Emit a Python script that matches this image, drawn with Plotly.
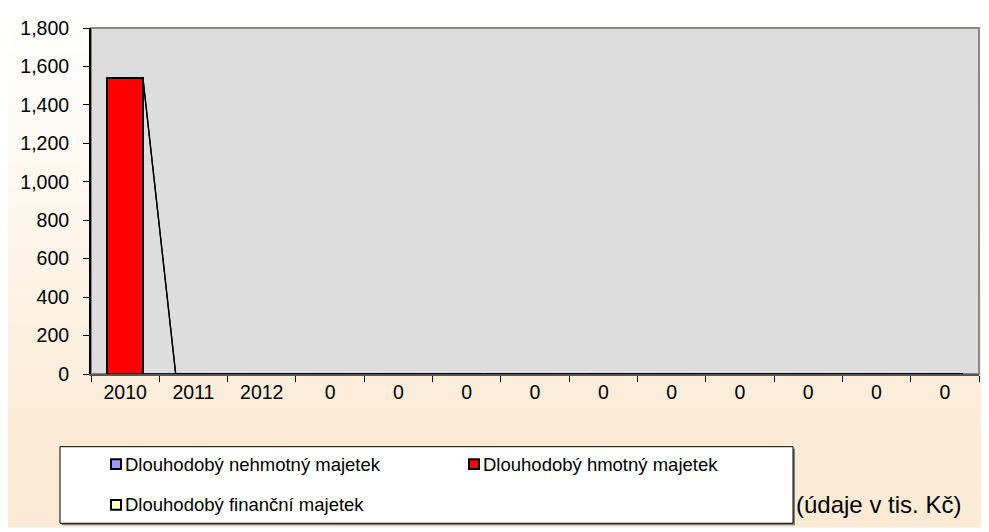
import plotly.graph_objects as go

# categories (the repeated "0" labels are kept as in the source chart)
categories = ["2010", "2011", "2012", "0", "0", "0", "0", "0", "0", "0", "0", "0", "0"]
nehmotny = [0, 0, 0, 0, 0, 0, 0, 0, 0, 0, 0, 0, 0]
hmotny = [1540, 0, 0, 0, 0, 0, 0, 0, 0, 0, 0, 0, 0]
financni = [0, 0, 0, 0, 0, 0, 0, 0, 0, 0, 0, 0, 0]

series = [
    ("Dlouhodobý nehmotný majetek", nehmotny, "#9999FF"),
    ("Dlouhodobý hmotný majetek", hmotny, "#FF0000"),
    ("Dlouhodobý finanční majetek", financni, "#FFFFCC"),
]
note = "(údaje v tis. Kč)"

xpos = list(range(len(categories)))
bar_w = 0.52

fig = go.Figure()
for name, vals, col in series:
    fig.add_trace(go.Bar(
        x=xpos, y=vals, name=name, width=bar_w, showlegend=False,
        marker=dict(color=col, line=dict(color="black", width=2)),
    ))

# Excel-style series lines joining the stacked tops of neighbouring bars
cum = [0] * len(categories)
lx, ly = [], []
for name, vals, col in series:
    cum = [c + v for c, v in zip(cum, vals)]
    for i in range(len(categories) - 1):
        lx += [xpos[i] + bar_w / 2, xpos[i + 1] - bar_w / 2, None]
        ly += [cum[i], cum[i + 1], None]
fig.add_trace(go.Scatter(x=lx, y=ly, mode="lines", showlegend=False,
                         line=dict(color="black", width=1.3), hoverinfo="skip"))

# page puts the figure 8px in from the top-left corner
OFF = 8
W, H = 989 - OFF, 532 - OFF
L, R, T, B = 83, 10, 9, 158
pw, ph = W - L - R, H - T - B


def sx(X):  # screen pixel -> paper x
    return (X - OFF - L) / pw


def sy(Y):  # screen pixel -> paper y
    return (H - B - (Y - OFF)) / ph


# background gradient (white at top -> peach at bottom)
shapes = []
n = 60
top_c = (255, 255, 255)
bot_c = (251, 235, 213)
for k in range(n):
    y0 = OFF + k * H / n
    y1 = OFF + (k + 1) * H / n
    f = min(1.0, ((y0 + y1) / 2) / 440) ** 1.1
    c = tuple(round(a + (b - a) * f) for a, b in zip(top_c, bot_c))
    shapes.append(dict(
        type="rect", xref="paper", yref="paper", layer="below",
        x0=sx(0), x1=sx(989), y0=sy(y1 + 0.5), y1=sy(y0),
        fillcolor="rgb(%d,%d,%d)" % c, line=dict(width=0),
    ))
shapes.append(dict(type="rect", xref="paper", yref="paper", layer="below",
                   x0=0, x1=1, y0=0, y1=1, fillcolor="#DDDDDD",
                   line=dict(color="#888888", width=2)))

# legend box drawn by hand so the rows keep the original spacing
shapes.append(dict(type="rect", xref="paper", yref="paper",
                   x0=sx(62), x1=sx(795), y0=sy(530), y1=sy(451),
                   fillcolor="#808080", line=dict(width=0)))
shapes.append(dict(type="rect", xref="paper", yref="paper",
                   x0=sx(60), x1=sx(793), y0=sy(528), y1=sy(449),
                   fillcolor="white", line=dict(color="black", width=1)))
legend_pos = [(111, 467), (469, 467), (111, 509)]
annotations = []
for (name, vals, col), (lxp, lyp) in zip(series, legend_pos):
    shapes.append(dict(type="rect", xref="paper", yref="paper",
                       x0=sx(lxp), x1=sx(lxp + 10), y0=sy(lyp + 5), y1=sy(lyp - 5),
                       fillcolor=col, line=dict(color="black", width=2)))
    annotations.append(dict(text=name, xref="paper", yref="paper",
                            x=sx(lxp + 12), y=sy(lyp), xanchor="left", yanchor="middle",
                            showarrow=False, font=dict(size=18.5)))
annotations.append(dict(text=note, xref="paper", yref="paper",
                        x=sx(794), y=sy(509), xanchor="left", yanchor="middle",
                        showarrow=False, font=dict(size=24)))

fig.update_layout(
    width=W, height=H,
    margin=dict(l=L, r=R, t=T, b=B),
    paper_bgcolor="white",
    plot_bgcolor="#DDDDDD",
    barmode="stack",
    shapes=shapes,
    annotations=annotations,
    font=dict(family="Liberation Sans, Arial, sans-serif", color="black"),
    showlegend=False,
)

fig.update_xaxes(
    range=[-0.5, len(categories) - 0.5],
    tickvals=xpos, ticktext=categories, ticks="",
    showline=True, linecolor="#555555", linewidth=2,
    tickfont=dict(size=19.5), ticklabelstandoff=0,
    minor=dict(tickvals=[i - 0.5 for i in range(len(categories) + 1)],
               ticks="outside", ticklen=6, tickcolor="black", tickwidth=1),
    showgrid=False, zeroline=False,
)
fig.update_yaxes(
    range=[0, 1800], dtick=200, tickformat=",",
    ticks="outside", ticklen=6, tickcolor="black",
    showline=True, linecolor="black", linewidth=2,
    tickfont=dict(size=19.5), ticklabelstandoff=10, ticklabeloverflow="allow",
    showgrid=False, zeroline=False,
)

fig.write_html("out.html")
